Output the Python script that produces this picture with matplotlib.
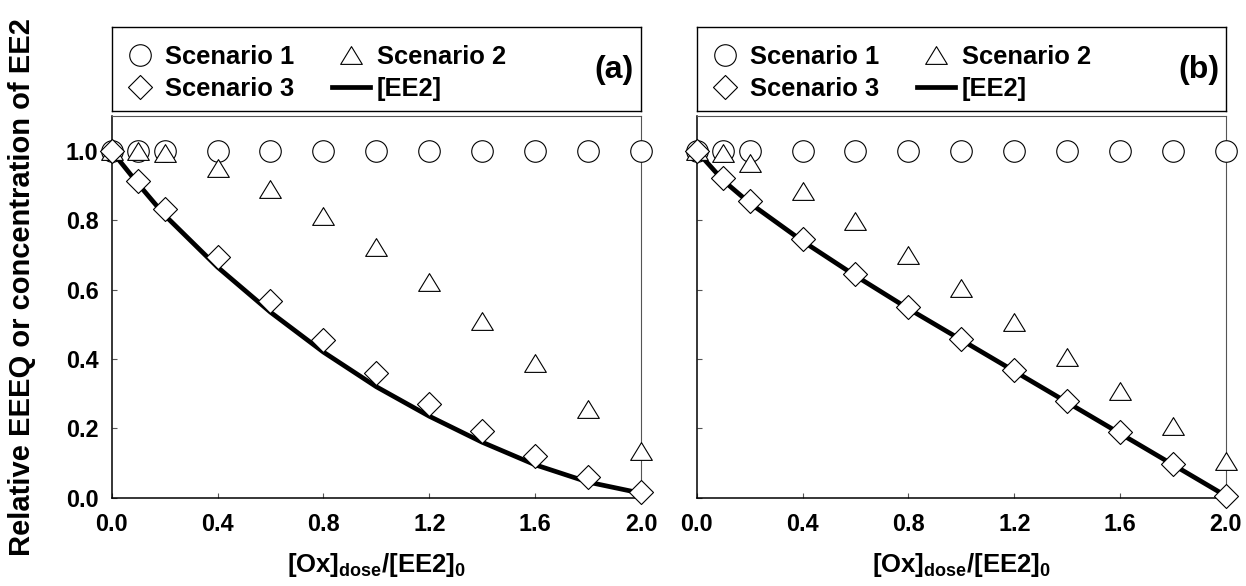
import matplotlib
matplotlib.use("Agg")
import matplotlib.pyplot as plt
from matplotlib.path import Path

plt.rcParams['font.family'] = ['Liberation Sans', 'DejaVu Sans']
plt.rcParams['font.weight'] = 'bold'
plt.rcParams['mathtext.fontset'] = 'custom'
plt.rcParams['mathtext.bf'] = 'Liberation Sans:bold'
plt.rcParams['mathtext.rm'] = 'Liberation Sans:bold'

# dose ratio [Ox]dose/[EE2]0
dose = [0.0, 0.1, 0.2, 0.4, 0.6, 0.8, 1.0, 1.2, 1.4, 1.6, 1.8, 2.0]

# panel (a)
s1_a = [1.0] * 12
s2_a = [1.0, 1.0, 0.995, 0.951, 0.891, 0.812, 0.724, 0.621, 0.510, 0.388, 0.257, 0.135]
s3_a = [1.0, 0.912, 0.833, 0.693, 0.566, 0.456, 0.359, 0.270, 0.191, 0.121, 0.061, 0.017]
ee2_a = [1.0, 0.905, 0.815, 0.665, 0.535, 0.42, 0.32, 0.235, 0.16, 0.095, 0.045, 0.013]

# panel (b)
s1_b = [1.0] * 12
s2_b = [1.0, 0.993, 0.964, 0.885, 0.797, 0.701, 0.604, 0.507, 0.406, 0.308, 0.207, 0.107]
s3_b = [1.0, 0.922, 0.857, 0.747, 0.646, 0.551, 0.459, 0.369, 0.279, 0.189, 0.097, 0.006]
ee2_b = [1.0, 0.915, 0.85, 0.74, 0.64, 0.545, 0.455, 0.365, 0.275, 0.185, 0.095, 0.005]

panels = [("(a)", s1_a, s2_a, s3_a, ee2_a), ("(b)", s1_b, s2_b, s3_b, ee2_b)]

xticks = [0.0, 0.4, 0.8, 1.2, 1.6, 2.0]
yticks = [0.0, 0.2, 0.4, 0.6, 0.8, 1.0]

tri = Path([(-1, -0.82), (1, -0.82), (0, 0.82), (-1, -0.82)], closed=True)
dia = Path([(0, 1), (1, 0), (0, -1), (-1, 0), (0, 1)], closed=True)

W, H = 1246, 586
fig = plt.figure(figsize=(W / 100, H / 100), dpi=100)

ax_lefts = [111.7, 696.7]
ax_w = 529.3

for i, (tag, s1, s2, s3, ee2) in enumerate(panels):
    left = ax_lefts[i]
    ax = fig.add_axes([left / W, (H - 497.7) / H, ax_w / W, 381.4 / H])
    mk = dict(linestyle='none', markerfacecolor='white', markeredgecolor='black',
              markeredgewidth=0.8, clip_on=False)
    l4, = ax.plot(dose, ee2, color='black', lw=3.4, zorder=3, clip_on=False, label='[EE2]')
    l1, = ax.plot(dose, s1, marker='o', markersize=15.5, zorder=4, label='Scenario 1', **mk)
    l2, = ax.plot(dose, s2, marker=tri, markersize=15.6, zorder=5, label='Scenario 2', **mk)
    l3, = ax.plot(dose, s3, marker=dia, markersize=17.3, zorder=6, label='Scenario 3', **mk)

    ax.set_xlim(0, 2.0)
    ax.set_ylim(0, 1.1)
    ax.set_xticks(xticks)
    ax.set_xticklabels(["%.1f" % v for v in xticks])
    ax.set_yticks(yticks)
    if i == 0:
        ax.set_yticklabels(["%.1f" % v for v in yticks])
    else:
        ax.set_yticklabels([])
    ax.tick_params(direction='in', length=3.6, width=0.8, color='#555555',
                   labelsize=16.8, pad=11)
    ax.tick_params(axis='y', pad=9.5)
    for sp in ['left', 'bottom']:
        ax.spines[sp].set_color('black')
        ax.spines[sp].set_linewidth(1.1)
    for sp in ['top', 'right']:
        ax.spines[sp].set_color('#555555')
        ax.spines[sp].set_linewidth(0.8)
    ax.set_xlabel(r'$\mathbf{[Ox]_{dose}/[EE2]_0}$', fontsize=18.5, labelpad=11)

    # legend box above the axes
    lax = fig.add_axes([left / W, (H - 111) / H, ax_w / W, 84.5 / H])
    lax.set_xticks([])
    lax.set_yticks([])
    for sp in lax.spines.values():
        sp.set_color('black')
        sp.set_linewidth(1.0)
    lax.legend([l1, l3, l2, l4], ['Scenario 1', 'Scenario 3', 'Scenario 2', '[EE2]'],
               ncol=2, loc='center left', bbox_to_anchor=(0, 0.45), borderaxespad=0,
               frameon=False, fontsize=18.4, numpoints=1, handlelength=1.48,
               handletextpad=0.25, columnspacing=1.5, labelspacing=0.3, borderpad=0.35)
    lax.text(0.949, 0.49, tag, transform=lax.transAxes, ha='center', va='center',
             fontsize=23, fontweight='bold')

fig.text(0.018, 0.51, 'Relative EEEQ or concentration of EE2', rotation=90,
         ha='center', va='center', fontsize=21, fontweight='bold')

fig.savefig('out.png', dpi=100)
